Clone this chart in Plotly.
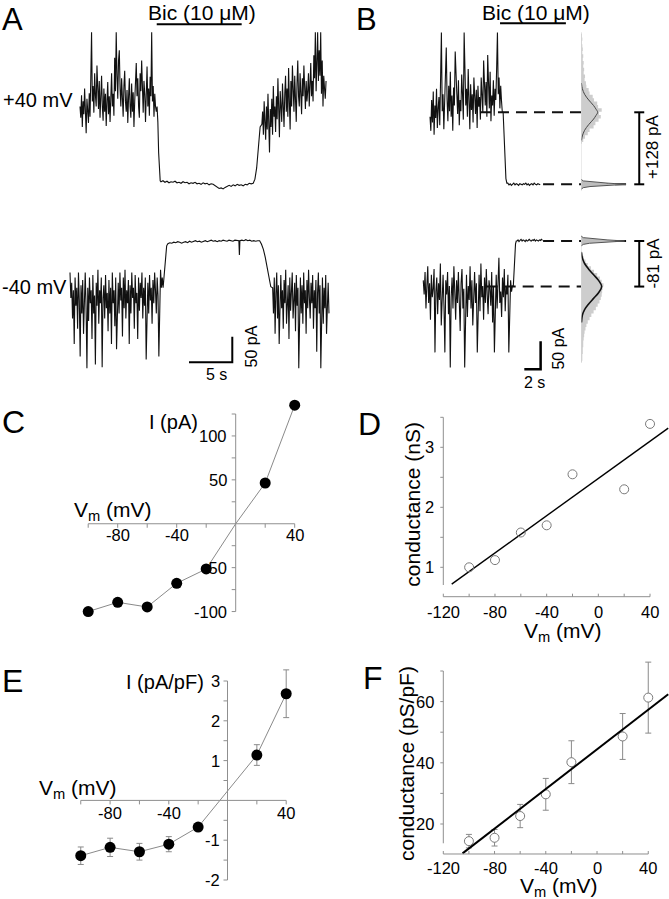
import numpy as np
import plotly.graph_objects as go

W, H = 669, 899
FONT = "Liberation Sans, Arial, sans-serif"
AXC = "#8f8f8f"

# ===================== DATA =====================
# Panel A: +40 mV whole-cell current (pA, relative to level in bicuculline)
A_POS_TIMES = [0.0, 8.9, 9.35, 20.0, 21.0, 28.5]          # segment limits (s)
A_POS_CTRL = [150,128,172,110,160,135,185,120,98,165,140,118,176,130,205,295,160,190,138,215,
              172,150,230,180,145,200,128,168,210,150,122,185,140,175,112,160,198,135,170,120,
              190,215,150,175,132,245,180,295,210,165,240,260,185,150,205,170,130,190,220,160,
              140,182,118,168,205,150,128,195,140,178,110,160,190,235,170,205,150,128,215,180,
              240,160,138,200,175,120,168,228,150,185,132,208,170,295,160,190,130,175,150,140]
A_POS_OFF = [150, 120, 60, 20, 5]
A_POS_BIC = [3,5,2,4,1,3,2,4,1,2,0,3,1,2,-1,1,0,2,-1,0,-2,1,-1,0,-3,-1,-2,-5,-7,-10,-9,-11,
             -8,-6,-4,-6,-3,-5,-2,-4,-3,-5,-2,-3,0,-1]
A_POS_ON = [0, 8, 30, 70, 110]
A_POS_WASH = [115,140,95,160,120,85,150,105,175,130,60,145,110,165,95,190,130,150,100,170,
              125,205,140,90,180,150,120,195,160,110,175,210,140,185,130,225,160,105,200,150,
              230,175,140,210,165,120,195,240,170,150,215,185,135,205,170,230,190,145,200,160,
              180,215,150,190,235,170,200,160,250,205,295,180,230,295,200,260,210,295,175,240,
              150,210,185,165,200]

# Panel A: -40 mV
A_NEG_TIMES = [0.0, 10.75, 11.3, 19.5, 19.62, 21.9, 23.4, 30.0]
A_NEG_CTRL = [-60,-110,-80,-150,-95,-200,-70,-125,-90,-170,-60,-115,-224,-85,-140,-75,-180,-100,-60,-130,
              -247,-90,-155,-70,-120,-95,-190,-65,-140,-105,-240,-80,-125,-55,-160,-95,-120,-70,-245,-110,
              -85,-150,-65,-130,-100,-175,-75,-140,-90,-200,-60,-120,-95,-165,-70,-210,-100,-80,-140,-60,
              -115,-90,-185,-70,-130,-55,-150,-95,-120,-75,-200,-85,-140,-60,-110,-90,-170,-65,-120,-100,
              -190,-70,-135,-80,-110,-60,-150,-90,-125,-70,-230,-100,-80,-140,-65,-115,-90,-160,-75,-120,
              -60,-95,-140,-70,-105,-224,-80,-55,-90,-70]
A_NEG_ON = [-90, -60, -30, -8]
A_NEG_BIC_1 = [-4,-2,-3,-1,-2,0,-1,-3,-1,0,-2,1,-1,0,2,0,1,-1,1,2,0,1,3,1,2,0,2,1,3,2,1,3,2,1,3,2]
A_NEG_GLITCH = [2, -26]
A_NEG_BIC_2 = [2,3,2,4,2,3,1,2,1,2]
A_NEG_OFF = [2, -5, -15, -30, -50, -70, -88]
A_NEG_WASH = [-90,-140,-70,-180,-100,-60,-150,-85,-200,-110,-65,-130,-95,-170,-75,-120,-55,-160,-100,-85,
              -190,-70,-135,-95,-60,-150,-110,-80,-175,-65,-125,-90,-247,-100,-70,-140,-85,-160,-60,-120,
              -95,-180,-75,-130,-55,-110,-150,-80,-120,-65,-170,-95,-130,-75,-215,-100,-60,-140,-85,-247,
              -110,-70,-160,-90,-130,-65,-180,-100,-80,-140]
A_BIC_ON, A_BIC_OFF = 8.86, 18.67

# Panel B
B_POS_TIMES = [1.23, 10.2, 10.77, 14.9]
B_POS_CTRL = [120,95,150,110,165,88,140,118,170,100,135,155,105,180,270,130,160,98,145,190,
              243,150,112,175,130,200,120,158,95,172,140,236,210,160,125,185,105,150,130,195,
              160,115,270,185,140,170,120,205,150,98,178,132,160,110,190,145,125,168,100,175,
              138,155,115,190,150,128,220,170,140,182,120,230,165,135,200,112,158,140,185,122,
              170,150,205,270,160,190,135,175,148,128]
B_POS_OFF = [128, 90, 40, 10, 2]
B_POS_BIC = [2,-1,1,-2,0,2,-1,1,0,-2,1,0,-1,1,0,2,-1,1,-2,0,1,-1,2,0,-1,1,0,-1]

B_NEG_TIMES = [0.4, 11.45, 11.9, 15.15]
B_NEG_CTRL = [-70,-95,-55,-120,-80,-45,-110,-75,-140,-60,-100,-85,-50,-198,-90,-65,-130,-75,-105,-40,
              -150,-85,-60,-115,-198,-70,-95,-55,-130,-80,-225,-100,-65,-120,-45,-90,-140,-70,-110,-55,
              -95,-160,-75,-50,-120,-85,-225,-95,-60,-135,-80,-105,-45,-120,-70,-150,-90,-55,-110,-75,
              -198,-95,-60,-125,-40,-100,-80,-140,-65,-110,-50,-95,-130,-70,-85,-115,-55,-145,-80,-198,
              -100,-60,-120,-75,-30,-110,-90,-135,-65,-100,-50,-125,-80,-95,-60,-198,-110,-70,-90,-80]
B_NEG_ON = [-80, -50, -20, -5, 0]
B_NEG_BIC = [0,2,-1,1,3,0,2,1,-1,2,0,1,3,1,0,2,1,3,0,2,1,0,2,1,3,1]
B_BIC_ON, B_BIC_OFF = 9.82, 17.9
B_POS_DELTA = 128
B_NEG_DELTA = -81

B_POS_HIST_PA = [72,78,84,90,96,102,108,114,120,126,132,138,144,150,156,162,168,174,180,186,
                 192,198,204,210,216,222,228,234,240,246,252,258,264,270]
B_POS_HIST_N = [2,5,9,15,19,28,32,39,44,40,46,38,36,29,26,19,17,12,11,8,9,6,7,5,6,4,5,3,4,3,2,3,2,1]
B_POS_FIT_PA = [180,170,160,150,140,134,128,122,116,106,96,86,78]
B_POS_FIT_N = [1,3,8,17,28,33,37,33,28,17,8,3,1]
B_NEG_HIST_PA = [-216,-210,-204,-198,-192,-186,-180,-174,-168,-162,-156,-150,-144,-138,-132,-126,
                 -120,-114,-108,-102,-96,-90,-84,-78,-72,-66,-60,-54,-48,-42,-36,-30,-24,-18]
B_NEG_HIST_N = [2,3,3,4,4,5,5,6,7,8,10,12,15,19,23,28,33,37,41,44,46,47,48,50,46,42,36,29,22,15,10,6,3,2]
B_NEG_FIT_PA = [-20,-30,-40,-50,-60,-70,-81,-92,-102,-112,-122,-132,-145]
B_NEG_FIT_N = [1,3,8,17,28,39,46,39,28,17,8,3,1]
B_ZERO_PA = [-9,-6,-4,-2,0,2,4,6,9]
B_POS_ZERO_N = [0,5,20,60,100,60,20,5,0]
B_NEG_ZERO_N = [0,5,19,58,97,58,19,5,0]

# Panel C / D / E / F
VM = [-100, -80, -60, -40, -20, 20, 40]
C_I = [-100, -89.5, -94.8, -67.8, -51.5, 46.4, 135]
C_CURVE_V = [-100, -80, -60, -40, -20, 0, 20, 40]
C_CURVE_I = [-100, -89.5, -94.8, -67.8, -51.5, 0, 46.4, 135]
D_G = [1.0, 1.12, 1.58, 1.70, 2.55, 2.30, 3.39]
D_FIT_V = [-113.5, 54.1]
D_FIT_G = [0.72, 3.32]
E_I = [-1.39, -1.18, -1.29, -1.10, -0.67, 1.14, 2.68]
E_ERR = [0.22, 0.23, 0.21, 0.19, 0.05, 0.26, 0.60]
F_G = [14.4, 15.5, 22.6, 29.7, 40.2, 48.6, 61.3]
F_ERR = [2.2, 2.7, 3.8, 5.2, 7.0, 7.5, 11.6]
F_FIT_V = [-105, 55.6]
F_FIT_G = [10.4, 62.4]

C_XTICKS = [-80, -40, 40]
C_XMINOR = [-100, -60, -20, 20]
C_YTICKS = [100, 50, -50, -100]
C_YMINOR = [125, 75, 25, -25, -75]
E_XTICKS = [-80, -40, 40]
E_XMINOR = [-100, -60, -20, 20]
E_YTICKS = [3, 2, 1, -1, -2]
E_YMINOR = [2.5, 1.5, 0.5, -0.5, -1.5]
DF_XTICKS = [-120, -80, -40, 0, 40]
DF_XMINOR = [-100, -60, -20, 20]
D_YTICKS = [1, 2, 3]
D_YMINOR = [1.5, 2.5, 3.5]
F_YTICKS = [20, 40, 60]
F_YMINOR = [30, 50, 70]


# ===================== helpers =====================
def build(times, segs):
    t, v = [], []
    for i, s in enumerate(segs):
        t.extend(np.linspace(times[i], times[i + 1], len(s), endpoint=False).tolist())
        v.extend(s)
    return t, v


def xax(px0, px1, pref, vref, k, anchor):
    return dict(domain=[px0 / W, px1 / W], range=[vref + (px0 - pref) / k, vref + (px1 - pref) / k],
                anchor=anchor, visible=False, fixedrange=True)


def yax(py0, py1, pref, vref, k, anchor):
    return dict(domain=[1 - py1 / H, 1 - py0 / H], range=[vref + (pref - py1) / k, vref + (pref - py0) / k],
                anchor=anchor, visible=False, fixedrange=True)


fig = go.Figure()
annos = []
shapes = []


def txt(x, y, s, size, xa="center", ya="middle", angle=0):
    annos.append(dict(x=x / W, y=1 - y / H, xref="paper", yref="paper", text=s, showarrow=False,
                      xanchor=xa, yanchor=ya, textangle=angle,
                      font=dict(family=FONT, size=size, color="black")))


def axis(xr, yr, orient, at, lo, hi, ticks, minor, labels, tdir, shift, tl=4):
    ln = dict(color=AXC, width=1)
    if orient == "x":
        shapes.append(dict(type="line", xref=xr, yref=yr, x0=lo, x1=hi, y0=at, y1=at, line=ln))
        for v in list(ticks) + list(minor):
            shapes.append(dict(type="line", xref=xr, yref=yr, x0=v, x1=v, ysizemode="pixel",
                               yanchor=at, y0=0, y1=tdir * tl, line=ln))
        for v in labels:
            annos.append(dict(xref=xr, yref=yr, x=v, y=at, text=str(v), showarrow=False,
                              xanchor="center", yanchor="middle", yshift=-shift,
                              font=dict(family=FONT, size=16.5, color="black")))
    else:
        shapes.append(dict(type="line", xref=xr, yref=yr, x0=at, x1=at, y0=lo, y1=hi, line=ln))
        for v in list(ticks) + list(minor):
            shapes.append(dict(type="line", xref=xr, yref=yr, y0=v, y1=v, xsizemode="pixel",
                               xanchor=at, x0=0, x1=tdir * tl, line=ln))
        for v in labels:
            annos.append(dict(xref=xr, yref=yr, x=at, y=v, text=str(v), showarrow=False,
                              xanchor="right", yanchor="middle", xshift=-shift,
                              font=dict(family=FONT, size=16.5, color="black")))


TR = dict(color="#111111", width=1.1)

# ---------- Panel A ----------
t, v = build(A_POS_TIMES, [A_POS_CTRL, A_POS_OFF, A_POS_BIC, A_POS_ON, A_POS_WASH])
fig.add_trace(go.Scatter(x=t, y=v, xaxis="x", yaxis="y", mode="lines", line=TR))
t, v = build(A_NEG_TIMES, [A_NEG_CTRL, A_NEG_ON, A_NEG_BIC_1, A_NEG_GLITCH, A_NEG_BIC_2,
                           A_NEG_OFF, A_NEG_WASH])
fig.add_trace(go.Scatter(x=t, y=v, xaxis="x2", yaxis="y2", mode="lines", line=TR))
# drug bar
shapes.append(dict(type="line", xref="x", yref="paper", x0=A_BIC_ON, x1=A_BIC_OFF,
                   y0=1 - 24.3 / H, y1=1 - 24.3 / H, line=dict(color="black", width=2)))
# scale bar (5 s, 50 pA)
sx, sy = 13.74, -235.5
fig.add_trace(go.Scatter(x=[sx, sx + 5, sx + 5], y=[sy, sy, sy + 50], xaxis="x2", yaxis="y2",
                         mode="lines", line=dict(color="black", width=2)))

# ---------- Panel B ----------
t, v = build(B_POS_TIMES, [B_POS_CTRL, B_POS_OFF, B_POS_BIC])
fig.add_trace(go.Scatter(x=t, y=v, xaxis="x3", yaxis="y3", mode="lines", line=TR))
t, v = build(B_NEG_TIMES, [B_NEG_CTRL, B_NEG_ON, B_NEG_BIC])
fig.add_trace(go.Scatter(x=t, y=v, xaxis="x4", yaxis="y4", mode="lines", line=TR))
shapes.append(dict(type="line", xref="x3", yref="paper", x0=B_BIC_ON, x1=B_BIC_OFF,
                   y0=1 - 23.3 / H, y1=1 - 23.3 / H, line=dict(color="black", width=2)))

DASH = dict(color="#111111", width=2, dash="11px,7px")
fig.add_trace(go.Scatter(x=[7.36, 20.6], y=[B_POS_DELTA] * 2, xaxis="x3", yaxis="y3", mode="lines", line=DASH))
fig.add_trace(go.Scatter(x=[15.1, 25.4], y=[0, 0], xaxis="x3", yaxis="y3", mode="lines", line=DASH))
fig.add_trace(go.Scatter(x=[8.18, 21.7], y=[B_NEG_DELTA] * 2, xaxis="x4", yaxis="y4", mode="lines", line=DASH))
fig.add_trace(go.Scatter(x=[15.1, 25.4], y=[0, 0], xaxis="x4", yaxis="y4", mode="lines", line=DASH))

# histograms
for xa, ya, hp, hn, fp, fn, zn, fw, fc in [
        ("x5", "y3", B_POS_HIST_PA, B_POS_HIST_N, B_POS_FIT_PA, B_POS_FIT_N, B_POS_ZERO_N, 1, "#444444"),
        ("x6", "y4", B_NEG_HIST_PA, B_NEG_HIST_N, B_NEG_FIT_PA, B_NEG_FIT_N, B_NEG_ZERO_N, 1.6, "#111111")]:
    fig.add_trace(go.Scatter(x=hn, y=hp, xaxis=xa, yaxis=ya, mode="lines",
                             line=dict(width=0, shape="vhv"), fill="tozerox", fillcolor="#cdcdcd"))
    fig.add_trace(go.Scatter(x=zn, y=B_ZERO_PA, xaxis=xa, yaxis=ya, mode="lines",
                             line=dict(width=1, color="#555555"), fill="tozerox", fillcolor="#bdbdbd"))
    fig.add_trace(go.Scatter(x=fn, y=fp, xaxis=xa, yaxis=ya, mode="lines",
                             line=dict(width=fw, color=fc, shape="spline")))
    shapes.append(dict(type="line", xref=xa, yref=ya, x0=0, x1=0,
                       y0=min(hp) if ya == "y4" else -12, y1=max(hp) if ya == "y3" else 8,
                       line=dict(color="#d8d8d8", width=1)))

# brackets
for xr, yr, d in [("x3", "y3", B_POS_DELTA), ("x4", "y4", B_NEG_DELTA)]:
    shapes.append(dict(type="line", xref=xr, yref=yr, x0=26.9, x1=26.9, y0=0, y1=d,
                       line=dict(color="black", width=2)))
    for yy in (0, d):
        shapes.append(dict(type="line", xref=xr, yref=yr, xsizemode="pixel", xanchor=26.9,
                           x0=-5, x1=5, y0=yy, y1=yy, line=dict(color="black", width=2)))
# scale bar (2 s, 50 pA)
sx, sy = 12.8, -228
fig.add_trace(go.Scatter(x=[sx, sx + 2, sx + 2], y=[sy, sy, sy + 50], xaxis="x4", yaxis="y4",
                         mode="lines", line=dict(color="black", width=2.5)))

# ---------- Panel C ----------
axis("x7", "y7", "x", 0, -100, 40, C_XTICKS, C_XMINOR, C_XTICKS, -1, 11)
axis("x7", "y7", "y", 0, -100, 125, C_YTICKS, C_YMINOR, C_YTICKS, -1, 7)
fig.add_trace(go.Scatter(x=C_CURVE_V, y=C_CURVE_I, xaxis="x7", yaxis="y7", mode="lines",
                         line=dict(color="#8a8a8a", width=1)))
fig.add_trace(go.Scatter(x=VM, y=C_I, xaxis="x7", yaxis="y7", mode="markers", cliponaxis=False,
                         marker=dict(color="black", size=11)))

# ---------- Panel D ----------
axis("x8", "y8", "x", 0.51, -120, 40, DF_XTICKS, DF_XMINOR, DF_XTICKS, 1, 15, 3)
axis("x8", "y8", "y", -120, 0.705, 3.5, D_YTICKS, D_YMINOR, D_YTICKS, -1, 7, 3)
fig.add_trace(go.Scatter(x=D_FIT_V, y=D_FIT_G, xaxis="x8", yaxis="y8", mode="lines",
                         line=dict(color="black", width=1.4)))
fig.add_trace(go.Scatter(x=VM, y=D_G, xaxis="x8", yaxis="y8", mode="markers", cliponaxis=False,
                         marker=dict(symbol="circle-open", color="#7a7a7a", size=9, line=dict(width=1))))

# ---------- Panel E ----------
axis("x9", "y9", "x", 0, -100, 40, E_XTICKS, E_XMINOR, E_XTICKS, -1, 13)
axis("x9", "y9", "y", 0, -2, 3, E_YTICKS, E_YMINOR, E_YTICKS, -1, 6)
fig.add_trace(go.Scatter(x=VM, y=E_I, xaxis="x9", yaxis="y9", mode="lines",
                         line=dict(color="#8a8a8a", width=1)))
fig.add_trace(go.Scatter(x=VM, y=E_I, xaxis="x9", yaxis="y9", mode="markers", cliponaxis=False,
                         error_y=dict(type="data", array=E_ERR, color="#8a8a8a", thickness=1, width=3),
                         marker=dict(color="black", size=11)))

# ---------- Panel F ----------
axis("x10", "y10", "x", 10.2, -120, 40, DF_XTICKS, DF_XMINOR, DF_XTICKS, 1, 14, 3)
axis("x10", "y10", "y", -120, 13.7, 70, F_YTICKS, F_YMINOR, F_YTICKS, -1, 7, 3)
fig.add_trace(go.Scatter(x=VM, y=F_G, xaxis="x10", yaxis="y10", mode="markers", cliponaxis=False,
                         error_y=dict(type="data", array=F_ERR, color="#8a8a8a", thickness=1, width=3),
                         marker=dict(symbol="circle", color="white", size=9,
                                     line=dict(width=1, color="#7a7a7a"))))
fig.add_trace(go.Scatter(x=F_FIT_V, y=F_FIT_G, xaxis="x10", yaxis="y10", mode="lines",
                         line=dict(color="black", width=2)))

# ---------- Text ----------
LET = 32
txt(0, 0, "A", 31, xa="left", ya="top")
txt(354, 0, "B", 31, xa="left", ya="top")
txt(0, 422, "C", LET, xa="left")
txt(356, 424, "D", LET, xa="left")
txt(0, 681, "E", LET, xa="left")
txt(361, 678, "F", LET, xa="left")

txt(201.7, 12, "Bic (10 \u03bcM)", 21)
txt(535.8, 12, "Bic (10 \u03bcM)", 21)
txt(1, 100, "+40 mV", 20, xa="left")
txt(0, 287, "-40 mV", 20, xa="left")
txt(216, 374, "5 s", 16)
txt(251.7, 346.7, "50 pA", 16, angle=-90)
txt(652.3, 146.7, "+128 pA", 17, angle=-90)
txt(653.3, 263.3, "-81 pA", 17, angle=-90)
txt(534.3, 382.7, "2 s", 16)
txt(558.3, 348.3, "50 pA", 16, angle=-90)

txt(174, 422, "I (pA)", 20)
txt(72, 511, "V<sub>m</sub> (mV)", 21, xa="left")
txt(411.7, 504, "conductance (nS)", 21, angle=-90)
txt(563, 632, "V<sub>m</sub> (mV)", 21)
txt(165, 682, "I (pA/pF)", 20)
txt(36.7, 789, "V<sub>m</sub> (mV)", 21, xa="left")
txt(406.7, 763.3, "conductance (pS/pF)", 21, angle=-90)
txt(558.7, 887, "V<sub>m</sub> (mV)", 21)

layout = dict(
    width=W, height=H, margin=dict(l=0, r=0, t=0, b=0),
    paper_bgcolor="white", plot_bgcolor="rgba(0,0,0,0)", showlegend=False,
    font=dict(family=FONT, color="black"),
    xaxis=xax(60, 340, 80, 0, 8.66, "y"), yaxis=yax(28, 208, 183.3, 0, 0.512, "x"),
    xaxis2=xax(60, 340, 70, 0, 8.66, "y2"), yaxis2=yax(212, 392, 241.7, 0, 0.512, "x2"),
    xaxis3=xax(415, 669, 420, 0, 8.15, "y3"), yaxis3=yax(28, 208, 184.3, 0, 0.5625, "x3"),
    xaxis4=xax(415, 669, 420, 0, 8.15, "y4"), yaxis4=yax(212, 398, 241, 0, 0.5625, "x4"),
    xaxis5=dict(domain=[581 / W, 1], range=[0, 88 / 0.45], anchor="y3", visible=False, fixedrange=True),
    xaxis6=dict(domain=[581 / W, 1], range=[0, 88 / 0.45], anchor="y4", visible=False, fixedrange=True),
    xaxis7=xax(40, 330, 235.7, 0, 1.475, "y7"), yaxis7=yax(395, 632, 523.75, 0, 0.878, "x7"),
    xaxis8=xax(395, 669, 443.3, -120, 1.292, "y8"), yaxis8=yax(400, 640, 567.3, 1, 60, "x8"),
    xaxis9=xax(40, 330, 227.5, 0, 1.4675, "y9"), yaxis9=yax(645, 897, 800.4, 0, 39.8, "x9"),
    xaxis10=xax(395, 669, 443.3, -120, 1.281, "y10"), yaxis10=yax(645, 897, 824, 20, 3.06, "x10"),
    annotations=annos, shapes=shapes,
)
fig.update_layout(**layout)
fig.write_html("out.html", config={"displayModeBar": False},
               post_script="document.body.style.margin='0px';document.body.style.overflow='hidden';")
